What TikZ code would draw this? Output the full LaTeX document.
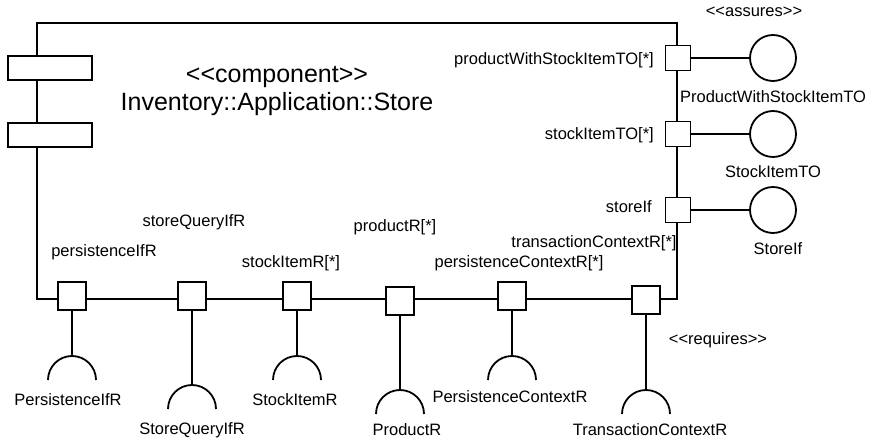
\documentclass[tikz,border=0pt]{standalone}
\usepackage{fontspec}
\setmainfont{Liberation Sans}
\usepackage{tikz}
\usetikzlibrary{positioning}
% guillemet-like stereotype brackets, kept as two plain < and >
\newcommand{\stereo}[1]{<\kern0pt<#1>\kern0pt>}

\begin{document}
\begin{tikzpicture}[x=1pt,y=-1pt,line width=1.8pt,
  every node/.style={font=\fontsize{16.5}{19}\selectfont},
  port/.style={draw,fill=white,minimum size=28pt,inner sep=0pt},
  rport/.style={port,minimum size=25pt},
  tab/.style={draw,fill=white,minimum width=84pt,minimum height=24pt,inner sep=0pt},
  lollipop/.style={draw,circle,minimum size=46pt,inner sep=0pt}]
\useasboundingbox (0,0) rectangle (877,443);

% Component body
\draw (37,23) rectangle (677,299);
\node[tab] (tab1) at (50,68) {};
\node[tab] (tab2) at (50,135) {};
\node[align=center,font=\fontsize{25}{28}\selectfont] (title) at (277,91)
  {\stereo{component}\\Inventory::Application::Store};

% Provided ports (right side)
\node[rport] (pPwst) at (678,58) {};
\node[rport] (pSito) at (678,134) {};
\node[rport] (pStoreIf) at (678,210) {};
\node[anchor=east] (lPwst) at (658,60) {productWithStockItemTO[*]};
\node[anchor=east] (lSito) at (658,135) {stockItemTO[*]};
\node[anchor=east] (lStoreIf) at (656,207) {storeIf};

% Provided interfaces
\node[lollipop] (iPwst) at (773,58) {};
\node[lollipop] (iSito) at (773,134) {};
\node[lollipop] (iStoreIf) at (773,210) {};
\draw (pPwst) -- (iPwst);
\draw (pSito) -- (iSito);
\draw (pStoreIf) -- (iStoreIf);
\node (assures) at (754,12) {\stereo{assures}};
\node (nPwst) at (773,97) {ProductWithStockItemTO};
\node (nSito) at (773,172) {StockItemTO};
\node (nStoreIf) at (778,249) {StoreIf};

% Required ports (bottom side)
\node[port] (pPersIf) at (72,296) {};
\node[port] (pStoreQ) at (192,296) {};
\node[port] (pStockR) at (297,296) {};
\node[port] (pProdR) at (400,301) {};
\node[port] (pPersCtx) at (512,296) {};
\node[port] (pTransCtx) at (646,300) {};
\node (lPersIf) at (104,252) {persistenceIfR};
\node (lStoreQ) at (194,222) {storeQueryIfR};
\node (lStockR) at (291,263) {stockItemR[*]};
\node (lProdR) at (395,227) {productR[*]};
\node (lPersCtx) at (519,263) {persistenceContextR[*]};
\node (lTransCtx) at (594,243) {transactionContextR[*]};

% Required interfaces (sockets)
\coordinate (sPersIf) at (72,356);
\coordinate (sStoreQ) at (192,385);
\coordinate (sStockR) at (297,356);
\coordinate (sProdR) at (400,390);
\coordinate (sPersCtx) at (512,356);
\coordinate (sTransCtx) at (646,390);
\draw (pPersIf) -- (sPersIf);
\draw (pStoreQ) -- (sStoreQ);
\draw (pStockR) -- (sStockR);
\draw (pProdR) -- (sProdR);
\draw (pPersCtx) -- (sPersCtx);
\draw (pTransCtx) -- (sTransCtx);
\foreach \s in {sPersIf,sStoreQ,sStockR,sProdR,sPersCtx,sTransCtx}
  \draw ([xshift=-24pt,yshift=-24pt]\s) arc[start angle=180,end angle=0,radius=24pt];
\node (nPersIf) at (68,400) {PersistenceIfR};
\node (nStoreQ) at (192,430) {StoreQueryIfR};
\node (nStockR) at (295,400) {StockItemR};
\node (nProdR) at (407,430) {ProductR};
\node (nPersCtx) at (510,397) {PersistenceContextR};
\node (nTransCtx) at (650,430) {TransactionContextR};
\node (requires) at (718,340) {\stereo{requires}};
\end{tikzpicture}
\end{document}
